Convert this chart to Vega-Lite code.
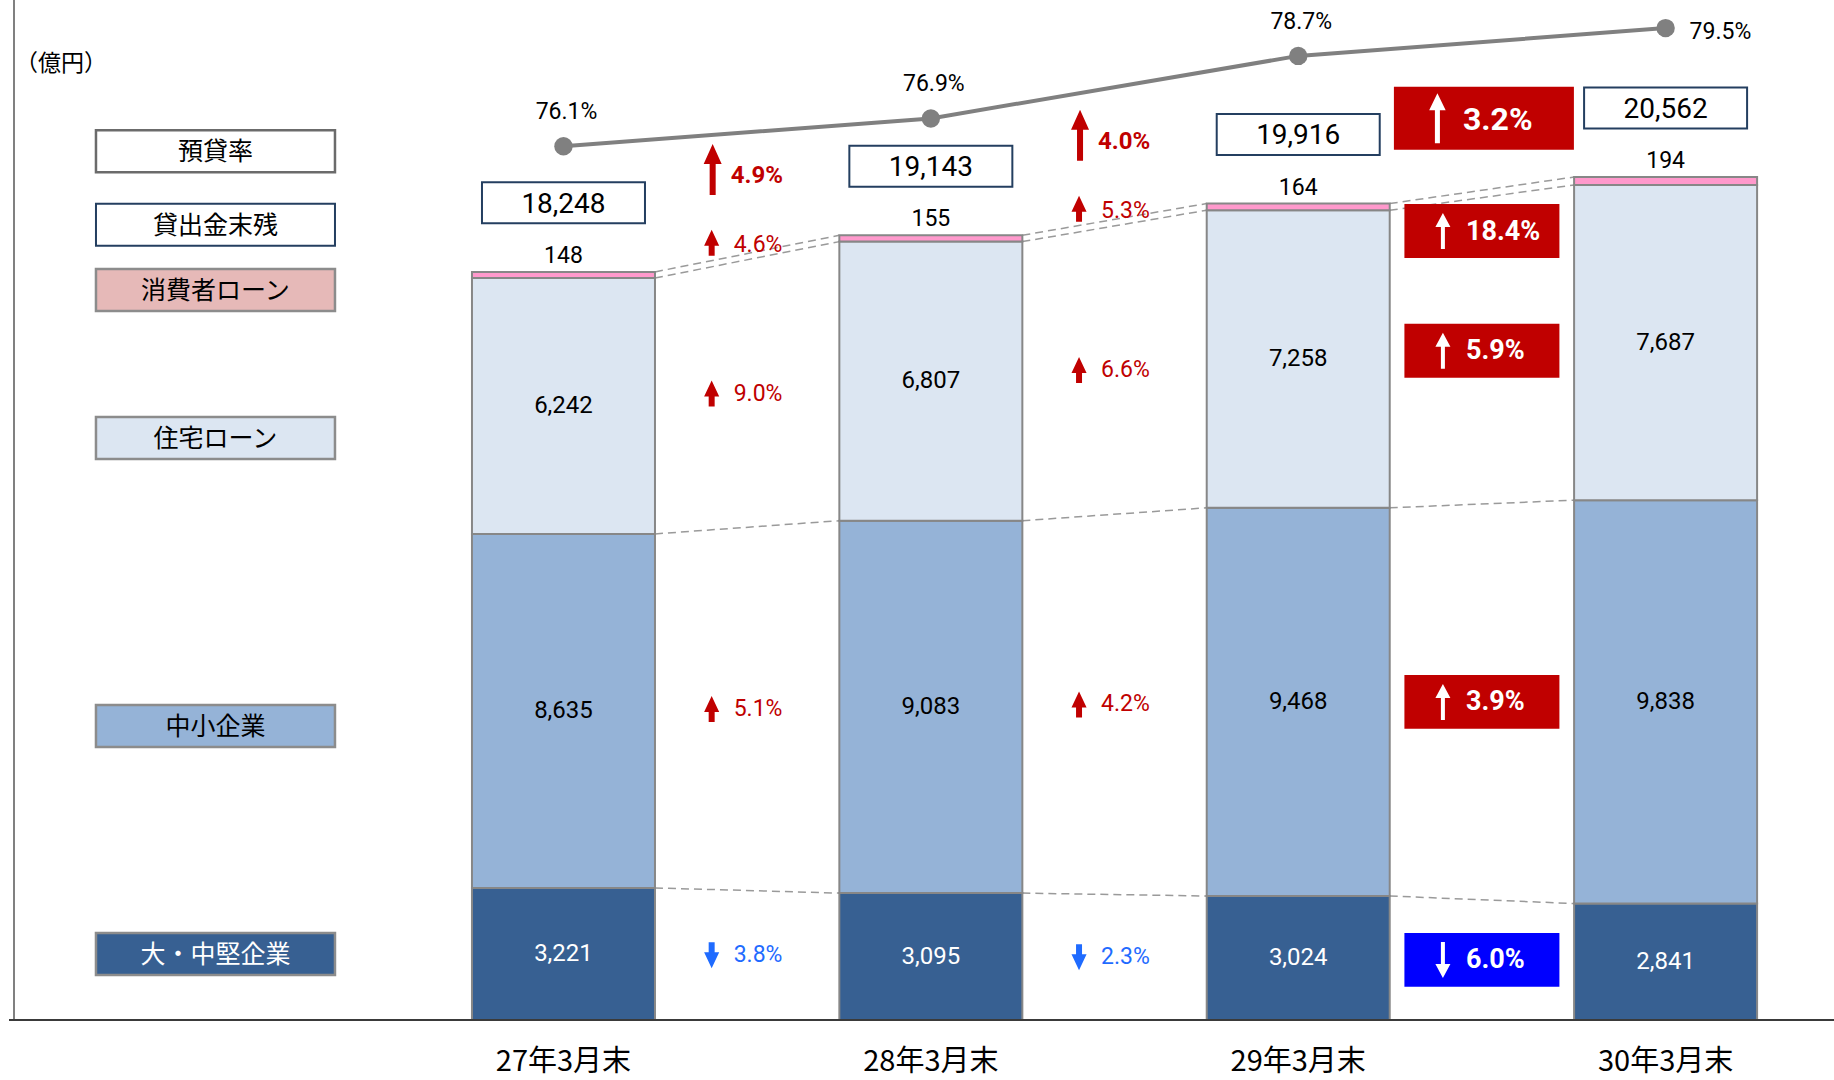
{
  "$schema": "https://vega.github.io/schema/vega-lite/v6.json",
  "width": 1825,
  "height": 1020,
  "padding": {"left": 9, "top": 0, "right": 0, "bottom": 60},
  "autosize": {"type": "none"},
  "background": "white",
  "title": {"text": "（億円）", "anchor": "start", "frame": "group", "orient": "top", "offset": 0, "dx": 52, "dy": 88, "align": "center", "baseline": "middle", "font": "Noto Sans CJK JP", "fontSize": 23, "fontWeight": "normal", "color": "#000000"},
  "config": {"view": {"stroke": null}, "text": {"font": "Roboto"}},
  "datasets": {
    "loans": [
      {"year": "27年3月末", "idx": 1, "segment": "大・中堅企業", "ord": 1, "value": 3221, "chg": null},
      {"year": "27年3月末", "idx": 1, "segment": "中小企業", "ord": 2, "value": 8635, "chg": null},
      {"year": "27年3月末", "idx": 1, "segment": "住宅ローン", "ord": 3, "value": 6242, "chg": null},
      {"year": "27年3月末", "idx": 1, "segment": "消費者ローン", "ord": 4, "value": 148, "chg": null},
      {"year": "28年3月末", "idx": 2, "segment": "大・中堅企業", "ord": 1, "value": 3095, "chg": -3.8},
      {"year": "28年3月末", "idx": 2, "segment": "中小企業", "ord": 2, "value": 9083, "chg": 5.1},
      {"year": "28年3月末", "idx": 2, "segment": "住宅ローン", "ord": 3, "value": 6807, "chg": 9.0},
      {"year": "28年3月末", "idx": 2, "segment": "消費者ローン", "ord": 4, "value": 155, "chg": 4.6},
      {"year": "29年3月末", "idx": 3, "segment": "大・中堅企業", "ord": 1, "value": 3024, "chg": -2.3},
      {"year": "29年3月末", "idx": 3, "segment": "中小企業", "ord": 2, "value": 9468, "chg": 4.2},
      {"year": "29年3月末", "idx": 3, "segment": "住宅ローン", "ord": 3, "value": 7258, "chg": 6.6},
      {"year": "29年3月末", "idx": 3, "segment": "消費者ローン", "ord": 4, "value": 164, "chg": 5.3},
      {"year": "30年3月末", "idx": 4, "segment": "大・中堅企業", "ord": 1, "value": 2841, "chg": -6.0},
      {"year": "30年3月末", "idx": 4, "segment": "中小企業", "ord": 2, "value": 9838, "chg": 3.9},
      {"year": "30年3月末", "idx": 4, "segment": "住宅ローン", "ord": 3, "value": 7687, "chg": 5.9},
      {"year": "30年3月末", "idx": 4, "segment": "消費者ローン", "ord": 4, "value": 194, "chg": 18.4}
    ],
    "years": [
      {"year": "27年3月末", "idx": 1, "total": 18248, "ratio": 76.1, "total_chg": null},
      {"year": "28年3月末", "idx": 2, "total": 19143, "ratio": 76.9, "total_chg": 4.9},
      {"year": "29年3月末", "idx": 3, "total": 19916, "ratio": 78.7, "total_chg": 4.0},
      {"year": "30年3月末", "idx": 4, "total": 20562, "ratio": 79.5, "total_chg": 3.2}
    ]
  },
  "resolve": {"scale": {"y": "independent"}},
  "layer": [
    {
      "layer": [
        {
          "data": {"name": "loans"},
          "transform": [
            {"stack": "value", "groupby": ["idx"], "sort": [{"field": "ord", "order": "ascending"}], "as": ["y0", "y1"]},
            {"window": [{"op": "lead", "field": "y1", "as": "ny1"}, {"op": "lead", "field": "idx", "as": "nidx"}], "groupby": ["segment"], "sort": [{"field": "idx", "order": "ascending"}]},
            {"filter": "isValid(datum.nidx)"}
          ],
          "mark": {"type": "rule", "strokeDash": [8, 5], "color": "#9a9a9a", "strokeWidth": 1.5, "xOffset": 91.5, "x2Offset": -91.5},
          "encoding": {
            "x": {"field": "idx", "type": "quantitative", "axis": null},
            "x2": {"field": "nidx"},
            "y": {"field": "y1", "type": "quantitative", "axis": null},
            "y2": {"field": "ny1"}
          }
        },
        {
          "data": {"name": "loans"},
          "transform": [
            {"stack": "value", "groupby": ["idx"], "sort": [{"field": "ord", "order": "ascending"}], "as": ["y0", "y1"]}
          ],
          "mark": {"type": "bar", "width": 183, "stroke": "#878787", "strokeWidth": 2},
          "encoding": {
            "x": {"field": "idx", "type": "quantitative", "axis": null,
                  "scale": {"domain": [-0.4957, 4.4448], "nice": false, "zero": false}},
            "y": {"field": "y0", "type": "quantitative", "axis": null,
                  "scale": {"domain": [0, 24878], "nice": false, "zero": false}},
            "y2": {"field": "y1"},
            "color": {"field": "segment", "type": "nominal", "legend": null,
                      "scale": {"domain": ["大・中堅企業", "中小企業", "住宅ローン", "消費者ローン"], "range": ["#376092", "#95b3d7", "#dce6f2", "#ff99cc"]}}
          }
        },
        {
          "data": {"name": "years"},
          "mark": {"type": "rule", "color": "#808080", "strokeWidth": 2},
          "encoding": {"x": {"datum": -0.4957, "type": "quantitative", "axis": null}}
        },
        {
          "data": {"name": "years"},
          "mark": {"type": "rule", "color": "#3a3a3a", "strokeWidth": 2},
          "encoding": {"y": {"datum": 0, "type": "quantitative", "axis": null}}
        },
        {
          "data": {"name": "loans"},
          "transform": [
            {"stack": "value", "groupby": ["idx"], "sort": [{"field": "ord", "order": "ascending"}], "as": ["y0", "y1"]},
            {"filter": "datum.segment != '消費者ローン'"},
            {"calculate": "(datum.y0 + datum.y1) / 2", "as": "mid"}
          ],
          "mark": {"type": "text", "font": "Roboto", "fontSize": 24, "baseline": "middle", "align": "center"},
          "encoding": {
            "x": {"field": "idx", "type": "quantitative", "axis": null},
            "y": {"field": "mid", "type": "quantitative", "axis": null},
            "text": {"field": "value", "type": "quantitative", "format": ","},
            "color": {"condition": {"test": "datum.segment == '大・中堅企業'", "value": "#ffffff"}, "value": "#000000"}
          }
        },
        {
          "data": {"name": "loans"},
          "transform": [
            {"stack": "value", "groupby": ["idx"], "sort": [{"field": "ord", "order": "ascending"}], "as": ["y0", "y1"]},
            {"filter": "datum.segment == '消費者ローン'"}
          ],
          "mark": {"type": "text", "font": "Roboto", "fontSize": 23, "baseline": "alphabetic", "align": "center", "dy": -9, "color": "#000000"},
          "encoding": {
            "x": {"field": "idx", "type": "quantitative", "axis": null},
            "y": {"field": "y1", "type": "quantitative", "axis": null},
            "text": {"field": "value", "type": "quantitative", "format": ","}
          }
        },
        {
          "data": {"name": "loans"},
          "transform": [
            {"stack": "value", "groupby": ["idx"], "sort": [{"field": "ord", "order": "ascending"}], "as": ["y0", "y1"]},
            {"calculate": "(datum.y0 + datum.y1) / 2", "as": "mid"},
            {"window": [{"op": "lag", "field": "mid", "as": "pmid"}], "groupby": ["segment"], "sort": [{"field": "idx", "order": "ascending"}]},
            {"filter": "isValid(datum.chg) && datum.idx < 4"},
            {"calculate": "(datum.mid + datum.pmid) / 2", "as": "cy"},
            {"calculate": "datum.idx - 0.5", "as": "cx"},
            {"calculate": "format(abs(datum.chg), '.1f') + '%'", "as": "chgLabel"}
          ],
          "encoding": {
            "x": {"field": "cx", "type": "quantitative", "axis": null},
            "y": {"field": "cy", "type": "quantitative", "axis": null}
          },
          "layer": [
            {
              "transform": [{"filter": "datum.segment != '消費者ローン'"}],
              "layer": [
                {
                  "mark": {"type": "point", "filled": true, "opacity": 1, "size": 676, "xOffset": -35.5, "strokeWidth": 0},
                  "encoding": {
                    "shape": {"condition": {"test": "datum.chg < 0", "value": "M0,1L0.58,-0.23L0.23,-0.23L0.23,-1L-0.23,-1L-0.23,-0.23L-0.58,-0.23Z"}, "value": "M0,-1L0.58,0.23L0.23,0.23L0.23,1L-0.23,1L-0.23,0.23L-0.58,0.23Z"},
                    "color": {"condition": {"test": "datum.chg < 0", "value": "#1f6bff"}, "value": "#c00000"}
                  }
                },
                {
                  "mark": {"type": "text", "font": "Roboto", "fontSize": 23, "align": "left", "baseline": "middle", "xOffset": -13.5},
                  "encoding": {
                    "text": {"field": "chgLabel"},
                    "color": {"condition": {"test": "datum.chg < 0", "value": "#1f6bff"}, "value": "#c00000"}
                  }
                }
              ]
            },
            {
              "transform": [{"filter": "datum.segment == '消費者ローン'"}],
              "layer": [
                {
                  "mark": {"type": "point", "filled": true, "opacity": 1, "size": 676, "xOffset": -35.5, "yOffset": -14, "strokeWidth": 0, "color": "#c00000",
                           "shape": "M0,-1L0.58,0.23L0.23,0.23L0.23,1L-0.23,1L-0.23,0.23L-0.58,0.23Z"}
                },
                {
                  "mark": {"type": "text", "font": "Roboto", "fontSize": 23, "align": "left", "baseline": "middle", "xOffset": -13.5, "yOffset": -12, "color": "#c00000"},
                  "encoding": {"text": {"field": "chgLabel"}}
                }
              ]
            }
          ]
        },
        {
          "data": {"name": "loans"},
          "transform": [
            {"stack": "value", "groupby": ["idx"], "sort": [{"field": "ord", "order": "ascending"}], "as": ["y0", "y1"]},
            {"calculate": "(datum.y0 + datum.y1) / 2", "as": "mid"},
            {"window": [{"op": "lag", "field": "mid", "as": "pmid"}], "groupby": ["segment"], "sort": [{"field": "idx", "order": "ascending"}]},
            {"filter": "isValid(datum.chg) && datum.idx == 4"},
            {"calculate": "(datum.mid + datum.pmid) / 2", "as": "cy"},
            {"calculate": "datum.idx - 0.5", "as": "cx"},
            {"calculate": "format(abs(datum.chg), '.1f') + '%'", "as": "chgLabel"}
          ],
          "encoding": {
            "x": {"field": "cx", "type": "quantitative", "axis": null},
            "y": {"field": "cy", "type": "quantitative", "axis": null}
          },
          "layer": [
            {
              "transform": [{"filter": "datum.segment != '消費者ローン'"}],
              "layer": [
                {
                  "mark": {"type": "point", "filled": true, "opacity": 1, "size": 24025, "strokeWidth": 0, "shape": "M-1,-0.348L1,-0.348L1,0.348L-1,0.348Z"},
                  "encoding": {
                    "color": {"condition": {"test": "datum.chg < 0", "value": "#0000ff"}, "value": "#c00000"}
                  }
                },
                {
                  "mark": {"type": "point", "filled": true, "opacity": 1, "size": 1296, "xOffset": -39, "strokeWidth": 0, "color": "#ffffff"},
                  "encoding": {
                    "shape": {"condition": {"test": "datum.chg < 0", "value": "M0,1L0.417,0.222L0.111,0.222L0.111,-1L-0.111,-1L-0.111,0.222L-0.417,0.222Z"}, "value": "M0,-1L0.417,-0.222L0.111,-0.222L0.111,1L-0.111,1L-0.111,-0.222L-0.417,-0.222Z"}
                  }
                },
                {
                  "mark": {"type": "text", "font": "Roboto", "fontWeight": "bold", "fontSize": 27, "align": "left", "baseline": "middle", "xOffset": -16, "color": "#ffffff"},
                  "encoding": {"text": {"field": "chgLabel"}}
                }
              ]
            },
            {
              "transform": [{"filter": "datum.segment == '消費者ローン'"}],
              "layer": [
                {
                  "mark": {"type": "point", "filled": true, "opacity": 1, "size": 24025, "strokeWidth": 0, "yOffset": 37, "color": "#c00000", "shape": "M-1,-0.348L1,-0.348L1,0.348L-1,0.348Z"}
                },
                {
                  "mark": {"type": "point", "filled": true, "opacity": 1, "size": 1296, "xOffset": -39, "yOffset": 37, "strokeWidth": 0, "color": "#ffffff",
                           "shape": "M0,-1L0.417,-0.222L0.111,-0.222L0.111,1L-0.111,1L-0.111,-0.222L-0.417,-0.222Z"}
                },
                {
                  "mark": {"type": "text", "font": "Roboto", "fontWeight": "bold", "fontSize": 27, "align": "left", "baseline": "middle", "xOffset": -16, "yOffset": 38, "color": "#ffffff"},
                  "encoding": {"text": {"field": "chgLabel"}}
                }
              ]
            }
          ]
        },
        {
          "data": {"name": "years"},
          "encoding": {
            "x": {"field": "idx", "type": "quantitative", "axis": null},
            "y": {"field": "total", "type": "quantitative", "axis": null}
          },
          "layer": [
            {
              "mark": {"type": "point", "filled": true, "fill": "#ffffff", "opacity": 1, "stroke": "#243f60", "strokeWidth": 2, "size": 26569, "yOffset": -69, "shape": "M-1,-0.2515L1,-0.2515L1,0.2515L-1,0.2515Z"}
            },
            {
              "mark": {"type": "text", "font": "Roboto", "fontSize": 28, "align": "center", "baseline": "middle", "yOffset": -67, "color": "#000000"},
              "encoding": {"text": {"field": "total", "type": "quantitative", "format": ","}}
            }
          ]
        },
        {
          "data": {"name": "years"},
          "transform": [
            {"window": [{"op": "lag", "field": "total", "as": "ptotal"}], "sort": [{"field": "idx", "order": "ascending"}]},
            {"filter": "isValid(datum.total_chg) && datum.idx < 4"},
            {"calculate": "(datum.total + datum.ptotal) / 2", "as": "cy"},
            {"calculate": "datum.idx - 0.5", "as": "cx"},
            {"calculate": "format(abs(datum.total_chg), '.1f') + '%'", "as": "chgLabel"}
          ],
          "encoding": {
            "x": {"field": "cx", "type": "quantitative", "axis": null},
            "y": {"field": "cy", "type": "quantitative", "axis": null}
          },
          "layer": [
            {
              "mark": {"type": "point", "filled": true, "opacity": 1, "size": 2601, "xOffset": -34.5, "yOffset": -84, "strokeWidth": 0, "color": "#c00000", "shape": "M0,-1L0.353,-0.216L0.118,-0.216L0.118,1L-0.118,1L-0.118,-0.216L-0.353,-0.216Z"}
            },
            {
              "mark": {"type": "text", "font": "Roboto", "fontWeight": "bold", "fontSize": 24, "align": "left", "baseline": "middle", "xOffset": -16.5, "yOffset": -77, "color": "#c00000"},
              "encoding": {"text": {"field": "chgLabel"}}
            }
          ]
        },
        {
          "data": {"name": "years"},
          "transform": [
            {"window": [{"op": "lag", "field": "total", "as": "ptotal"}], "sort": [{"field": "idx", "order": "ascending"}]},
            {"filter": "isValid(datum.total_chg) && datum.idx == 4"},
            {"calculate": "(datum.total + datum.ptotal) / 2", "as": "cy"},
            {"calculate": "datum.idx - 0.5", "as": "cx"},
            {"calculate": "format(abs(datum.total_chg), '.1f') + '%'", "as": "chgLabel"}
          ],
          "encoding": {
            "x": {"field": "cx", "type": "quantitative", "axis": null},
            "y": {"field": "cy", "type": "quantitative", "axis": null}
          },
          "layer": [
            {
              "mark": {"type": "point", "filled": true, "opacity": 1, "size": 32400, "xOffset": 2, "yOffset": -72, "strokeWidth": 0, "color": "#c00000", "shape": "M-1,-0.35L1,-0.35L1,0.35L-1,0.35Z"}
            },
            {
              "mark": {"type": "point", "filled": true, "opacity": 1, "size": 2500, "xOffset": -44.5, "yOffset": -72, "strokeWidth": 0, "color": "#ffffff", "shape": "M0,-1L0.33,-0.32L0.1,-0.32L0.1,1L-0.1,1L-0.1,-0.32L-0.33,-0.32Z"}
            },
            {
              "mark": {"type": "text", "font": "Roboto", "fontWeight": "bold", "fontSize": 32, "align": "left", "baseline": "middle", "xOffset": -19, "yOffset": -70, "color": "#ffffff"},
              "encoding": {"text": {"field": "chgLabel"}}
            }
          ]
        },
        {
          "data": {"name": "loans"},
          "transform": [
            {"stack": "value", "groupby": ["idx"], "sort": [{"field": "ord", "order": "ascending"}], "as": ["y0", "y1"]},
            {"filter": "datum.idx == 1"},
            {"calculate": "(datum.y0 + datum.y1) / 2", "as": "mid"}
          ],
          "encoding": {
            "x": {"field": "idx", "type": "quantitative", "axis": null},
            "y": {"field": "mid", "type": "quantitative", "axis": null},
            "fill": {"field": "segment", "type": "nominal", "legend": null,
                     "scale": {"domain": ["大・中堅企業", "中小企業", "住宅ローン", "消費者ローン"], "range": ["#376092", "#95b3d7", "#dce6f2", "#e6b9b8"]}}
          },
          "layer": [
            {
              "transform": [{"filter": "datum.segment == '大・中堅企業'"}],
              "layer": [
                {"mark": {"type": "point", "filled": true, "opacity": 1, "stroke": "#8c8c8c", "strokeWidth": 2.5, "size": 57121, "xOffset": -348, "yOffset": 0, "shape": "M-1,-0.1757L1,-0.1757L1,0.1757L-1,0.1757Z"}},
                {"mark": {"type": "text", "font": "Noto Sans CJK JP", "fontSize": 25, "align": "center", "baseline": "middle", "xOffset": -348, "yOffset": 1},
                 "encoding": {"text": {"field": "segment"}, "fill": {"value": "#ffffff"}}}
              ]
            },
            {
              "transform": [{"filter": "datum.segment == '住宅ローン'"}],
              "layer": [
                {"mark": {"type": "point", "filled": true, "opacity": 1, "stroke": "#8c8c8c", "strokeWidth": 2.5, "size": 57121, "xOffset": -348, "yOffset": 32, "shape": "M-1,-0.1757L1,-0.1757L1,0.1757L-1,0.1757Z"}},
                {"mark": {"type": "text", "font": "Noto Sans CJK JP", "fontSize": 25, "align": "center", "baseline": "middle", "xOffset": -348, "yOffset": 33},
                 "encoding": {"text": {"field": "segment"}, "fill": {"value": "#000000"}}}
              ]
            },
            {
              "transform": [{"filter": "datum.segment == '中小企業' || datum.segment == '消費者ローン'"}],
              "layer": [
                {"mark": {"type": "point", "filled": true, "opacity": 1, "stroke": "#8c8c8c", "strokeWidth": 2.5, "size": 57121, "xOffset": -348, "yOffset": 15, "shape": "M-1,-0.1757L1,-0.1757L1,0.1757L-1,0.1757Z"}},
                {"mark": {"type": "text", "font": "Noto Sans CJK JP", "fontSize": 25, "align": "center", "baseline": "middle", "xOffset": -348, "yOffset": 16},
                 "encoding": {"text": {"field": "segment"}, "fill": {"value": "#000000"}}}
              ]
            }
          ]
        },
        {
          "data": {"name": "years"},
          "transform": [{"filter": "datum.idx == 1"}],
          "encoding": {
            "x": {"field": "idx", "type": "quantitative", "axis": null},
            "y": {"field": "total", "type": "quantitative", "axis": null}
          },
          "layer": [
            {
              "mark": {"type": "point", "filled": true, "fill": "#ffffff", "opacity": 1, "stroke": "#243f60", "strokeWidth": 2, "size": 57121, "xOffset": -348, "yOffset": -47, "shape": "M-1,-0.1757L1,-0.1757L1,0.1757L-1,0.1757Z"}
            },
            {
              "mark": {"type": "text", "font": "Noto Sans CJK JP", "fontSize": 25, "align": "center", "baseline": "middle", "xOffset": -348, "yOffset": -46, "color": "#000000"},
              "encoding": {"text": {"value": "貸出金末残"}}
            }
          ]
        },
        {
          "data": {"name": "years"},
          "mark": {"type": "text", "font": "Noto Sans CJK JP", "fontSize": 29, "align": "center", "baseline": "middle", "yOffset": 42, "color": "#000000"},
          "encoding": {
            "x": {"field": "idx", "type": "quantitative", "axis": null},
            "y": {"datum": 0, "type": "quantitative", "axis": null},
            "text": {"field": "year"}
          }
        }
      ]
    },
    {
      "data": {"name": "years"},
      "transform": [{"calculate": "format(datum.ratio, '.1f') + '%'", "as": "ratioLabel"}],
      "encoding": {
        "x": {"field": "idx", "type": "quantitative", "axis": null},
        "y": {"field": "ratio", "type": "quantitative", "axis": null,
              "scale": {"domain": [50.948, 80.309], "nice": false, "zero": false}}
      },
      "layer": [
        {"mark": {"type": "line", "color": "#808080", "strokeWidth": 4}},
        {"mark": {"type": "point", "filled": true, "opacity": 1, "color": "#808080", "shape": "circle", "size": 340}},
        {
          "transform": [{"filter": "datum.idx < 4"}],
          "mark": {"type": "text", "font": "Roboto", "fontSize": 23, "align": "center", "baseline": "middle", "dx": 3, "dy": -34, "color": "#000000"},
          "encoding": {"text": {"field": "ratioLabel"}}
        },
        {
          "transform": [{"filter": "datum.idx == 4"}],
          "mark": {"type": "text", "font": "Roboto", "fontSize": 23, "align": "left", "baseline": "middle", "dx": 24, "dy": 4, "color": "#000000"},
          "encoding": {"text": {"field": "ratioLabel"}}
        },
        {
          "transform": [{"filter": "datum.idx == 1"}],
          "mark": {"type": "point", "filled": true, "fill": "#ffffff", "opacity": 1, "stroke": "#6b6b6b", "strokeWidth": 2.5, "size": 57121, "xOffset": -348, "yOffset": 5, "shape": "M-1,-0.1757L1,-0.1757L1,0.1757L-1,0.1757Z"}
        },
        {
          "transform": [{"filter": "datum.idx == 1"}],
          "mark": {"type": "text", "font": "Noto Sans CJK JP", "fontSize": 25, "align": "center", "baseline": "middle", "xOffset": -348, "yOffset": 6, "color": "#000000"},
          "encoding": {"text": {"value": "預貸率"}}
        }
      ]
    }
  ]
}
